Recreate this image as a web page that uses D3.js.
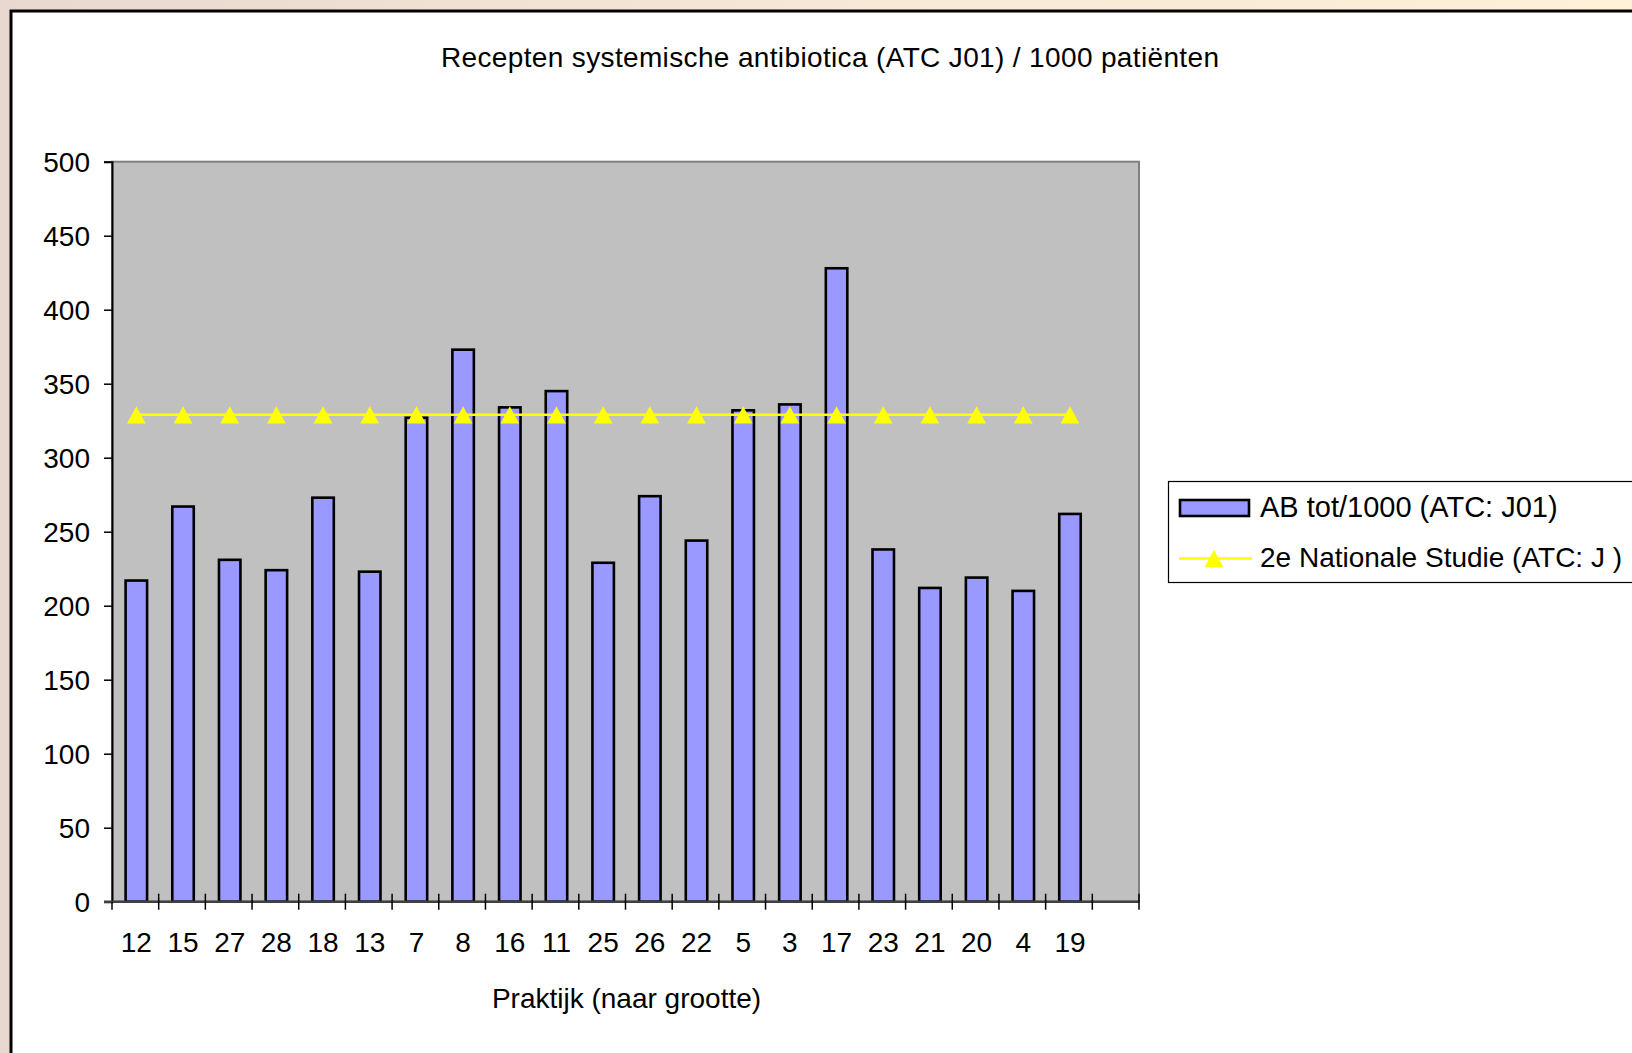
<!DOCTYPE html>
<html>
<head>
<meta charset="utf-8">
<script src="https://cdn.jsdelivr.net/npm/d3@7"></script>
<style>
body { margin: 0; overflow: hidden; }
text { font-family: Arial, "Liberation Sans", sans-serif; fill: #000; }
</style>
</head>
<body>
<svg width="1632" height="1053"></svg>
<script>
// practices, sorted by size
let praktijken = ['12', '15', '27', '28', '18', '13', '7', '8', '16', '11', '25',
  '26', '22', '5', '3', '17', '23', '21', '20', '4', '19'];
// AB tot/1000 (ATC: J01)
let abTot = [217, 267, 231, 224, 273, 223, 327, 373, 334, 345, 229,
  274, 244, 332, 336, 428, 238, 212, 219, 210, 262];
// 2e Nationale Studie (ATC: J)
let nationaal = [329, 329, 329, 329, 329, 329, 329, 329, 329, 329, 329,
  329, 329, 329, 329, 329, 329, 329, 329, 329, 329];
let yTicks = [0, 50, 100, 150, 200, 250, 300, 350, 400, 450, 500];

let svg = d3.select('svg');

// page background
let defs = svg.append('defs');
let grad = defs.append('linearGradient').attr('id', 'bg')
  .attr('x1', '0').attr('y1', '0').attr('x2', '1').attr('y2', '0');
grad.append('stop').attr('offset', '0').attr('stop-color', '#e8d8cf');
grad.append('stop').attr('offset', '0.5').attr('stop-color', '#f6e8d6');
grad.append('stop').attr('offset', '1').attr('stop-color', '#fdf1d8');
svg.append('rect').attr('width', 1632).attr('height', 1053).attr('fill', 'url(#bg)');

// chart area
svg.append('rect')
  .attr('x', 11).attr('y', 11).attr('width', 1640).attr('height', 1060)
  .attr('fill', '#fff').attr('stroke', '#000').attr('stroke-width', 3);

let plot = {left: 112, right: 1139, top: 161.7, bottom: 901.7};

let x = d3.scaleBand()
  .domain(praktijken.concat(['']))
  .range([plot.left, plot.right]);
let y = d3.scaleLinear()
  .domain([0, 500])
  .range([plot.bottom, plot.top]);

// plot background
svg.append('rect')
  .attr('x', plot.left).attr('y', plot.top)
  .attr('width', plot.right - plot.left).attr('height', plot.bottom - plot.top)
  .attr('fill', '#c0c0c0').attr('stroke', '#808080').attr('stroke-width', 2);

// title
svg.append('text')
  .attr('x', 830).attr('y', 66.5)
  .attr('text-anchor', 'middle')
  .attr('textLength', 778)
  .attr('lengthAdjust', 'spacing')
  .style('font-size', '28px')
  .text('Recepten systemische antibiotica (ATC J01) / 1000 patiënten');

// bars
let barW = x.bandwidth() * 0.46;
svg.selectAll('.bar')
  .data(abTot)
  .enter().append('rect')
  .attr('class', 'bar')
  .attr('x', (d, i) => x(praktijken[i]) + (x.bandwidth() - barW) / 2 + 1)
  .attr('y', d => y(d))
  .attr('width', barW)
  .attr('height', d => y(0) - y(d))
  .style('fill', '#9999ff')
  .style('stroke', '#000')
  .style('stroke-width', 2.6);

// y axis
let yAxis = d3.axisLeft(y)
  .tickValues(yTicks)
  .tickSize(8)
  .tickPadding(14);
let gy = svg.append('g')
  .attr('transform', `translate(${plot.left},0)`)
  .call(yAxis);
gy.select('.domain').attr('stroke', '#000').attr('stroke-width', 2);
gy.selectAll('.tick line').attr('stroke', '#000').attr('stroke-width', 1.5);
gy.selectAll('.tick text')
  .style('font-size', '28px')
  .style('font-family', 'Arial, "Liberation Sans", sans-serif')
  .attr('dy', '0.36em');

// x axis line and crossing ticks
svg.append('line')
  .attr('x1', plot.left - 8).attr('x2', plot.right)
  .attr('y1', plot.bottom).attr('y2', plot.bottom)
  .attr('stroke', '#404040').attr('stroke-width', 2.5);
let tickXs = x.domain().map(c => x(c)).concat([plot.right]);
svg.selectAll('.xtick')
  .data(tickXs)
  .enter().append('line')
  .attr('class', 'xtick')
  .attr('x1', d => d).attr('x2', d => d)
  .attr('y1', (d, i) => i == 0 ? plot.bottom : plot.bottom - 8)
  .attr('y2', plot.bottom + 8)
  .attr('stroke', '#000').attr('stroke-width', 1.5);
svg.selectAll('.xlabel')
  .data(praktijken)
  .enter().append('text')
  .attr('class', 'xlabel')
  .attr('x', d => x(d) + x.bandwidth() / 2 + 1)
  .attr('y', 951.5)
  .attr('text-anchor', 'middle')
  .style('font-size', '28px')
  .text(d => d);

// axis title
svg.append('text')
  .attr('x', (plot.left + plot.right) / 2 + 1).attr('y', 1008)
  .attr('text-anchor', 'middle')
  .style('font-size', '28px')
  .text('Praktijk (naar grootte)');

// national study line
let tri = 'M0,-8.6L9.4,8.8L-9.4,8.8Z';
let line = d3.line()
  .x((d, i) => x(praktijken[i]) + x.bandwidth() / 2 + 1)
  .y(d => y(d));
svg.append('path')
  .datum(nationaal)
  .attr('d', line)
  .attr('fill', 'none')
  .attr('stroke', '#ffff00')
  .attr('stroke-width', 2.5);
svg.selectAll('.marker')
  .data(nationaal)
  .enter().append('path')
  .attr('class', 'marker')
  .attr('d', tri)
  .attr('transform', (d, i) => `translate(${x(praktijken[i]) + x.bandwidth() / 2 + 1},${y(d)})`)
  .attr('fill', '#ffff00');

// legend
let legend = svg.append('g');
legend.append('rect')
  .attr('x', 1168.5).attr('y', 481.5).attr('width', 500).attr('height', 101)
  .attr('fill', '#fff').attr('stroke', '#000').attr('stroke-width', 1.2);
legend.append('rect')
  .attr('x', 1180).attr('y', 500).attr('width', 69).attr('height', 16)
  .style('fill', '#9999ff').style('stroke', '#000').style('stroke-width', 2.6);
legend.append('text')
  .attr('x', 1260).attr('y', 517)
  .style('font-size', '29px')
  .text('AB tot/1000 (ATC: J01)');
legend.append('line')
  .attr('x1', 1179).attr('x2', 1252).attr('y1', 558.5).attr('y2', 558.5)
  .attr('stroke', '#ffff00').attr('stroke-width', 2.5);
legend.append('path')
  .attr('d', tri)
  .attr('transform', 'translate(1214,558.5)')
  .attr('fill', '#ffff00');
legend.append('text')
  .attr('x', 1260).attr('y', 566.5)
  .attr('textLength', 362)
  .attr('lengthAdjust', 'spacingAndGlyphs')
  .style('font-size', '28px')
  .text('2e Nationale Studie (ATC: J )');
</script>
</body>
</html>
